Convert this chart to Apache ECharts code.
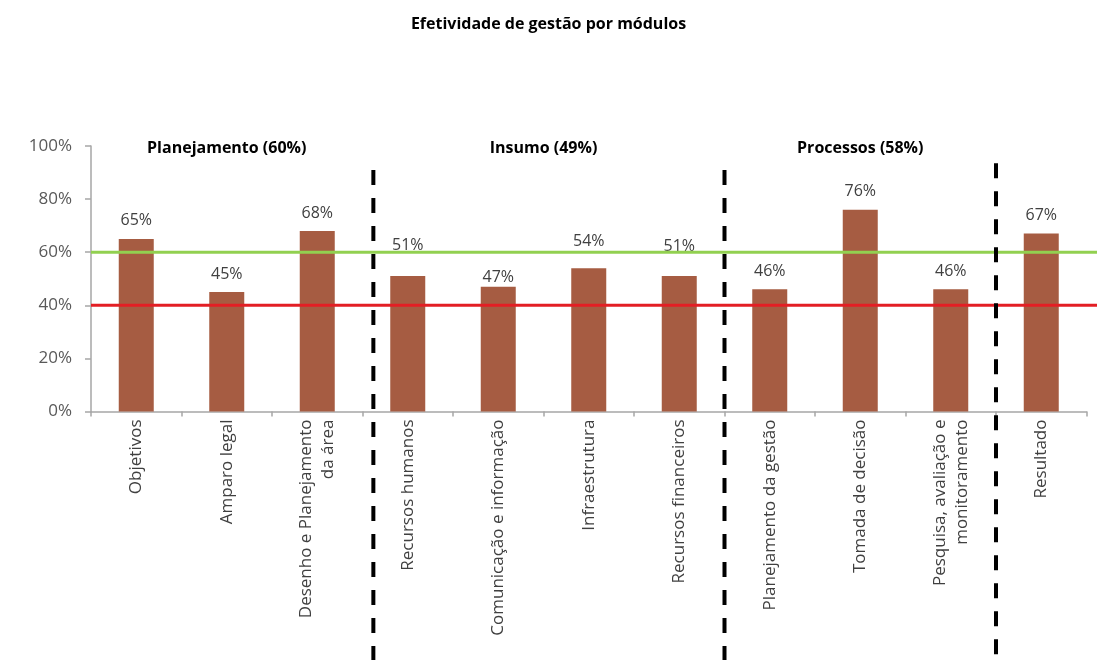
<!DOCTYPE html>
<html>
<head>
<meta charset="utf-8">
<script src="https://cdn.jsdelivr.net/npm/echarts@6/dist/echarts.min.js"></script>
<style>
  html, body { margin: 0; padding: 0; background: #ffffff; }
  #chart { width: 1097px; height: 660px; }
</style>
</head>
<body>
<div id="chart"></div>
<script>
// Management effectiveness per module (share of the maximum score)
const categories = [
  'Objetivos',
  'Amparo legal',
  'Desenho e Planejamento\nda área',
  'Recursos humanos',
  'Comunicação e informação',
  'Infraestrutura',
  'Recursos financeiros',
  'Planejamento da gestão',
  'Tomada de decisão',
  'Pesquisa, avaliação e\nmonitoramento',
  'Resultado'
];
const values = [0.65, 0.45, 0.68, 0.51, 0.47, 0.54, 0.51, 0.46, 0.76, 0.46, 0.67];

// Modules: header text and the range of categories they cover
const moduleNames = ['Planejamento (60%)', 'Insumo (49%)', 'Processos (58%)'];
const moduleRanges = [[0, 2], [3, 6], [7, 9]];

// Category-boundary positions of the dashed module dividers
const dividers = [3.12, 7, 10];
const dividerTops = [0.91, 0.91, 0.935];

// Reference thresholds
const thresholdValues = [0.6, 0.4];
const thresholdColors = ['#92D050', '#E31E24'];

const FONT = '"Open Sans", Lato, sans-serif';

// Per-bar spacing of the value labels above the bars
const labelDistance = { 3: 23, 4: 1, 5: 19, 6: 22 };

const chart = echarts.init(document.getElementById('chart'), null, { renderer: 'canvas' });

const option = {
  animation: false,
  backgroundColor: '#ffffff',
  title: {
    text: 'Efetividade de gestão por módulos',
    left: 'center',
    top: 11,
    textStyle: { fontFamily: FONT, fontSize: 16, fontWeight: 'bold', color: '#000000' }
  },
  grid: { left: 91, right: 10.5, top: 146, bottom: 248.5, containLabel: false },
  xAxis: [
    {
      type: 'category',
      data: categories,
      axisLine: { lineStyle: { color: '#A6A6A6', width: 1.5 } },
      axisTick: { show: true, length: 5, lineStyle: { color: '#A6A6A6', width: 1.5 } },
      axisLabel: {
        rotate: 90,
        interval: 0,
        margin: 8,
        fontFamily: FONT,
        fontSize: 17,
        color: '#404040',
        lineHeight: 22
      }
    },
    {
      // helper axis spanning the categories, used to place dividers and headers
      type: 'value',
      min: 0,
      max: categories.length,
      show: false
    }
  ],
  yAxis: {
    type: 'value',
    min: 0,
    max: 1,
    interval: 0.2,
    axisLine: { show: true, lineStyle: { color: '#A6A6A6', width: 1.5 } },
    axisTick: { show: true, length: 6, lineStyle: { color: '#A6A6A6', width: 1.5 } },
    splitLine: { show: false },
    axisLabel: {
      margin: 19,
      fontFamily: FONT,
      fontSize: 17,
      color: '#595959',
      formatter: v => Math.round(v * 100) + '%'
    }
  },
  series: [
    {
      type: 'bar',
      barWidth: 35,
      data: values.map((v, i) => ({
        value: v,
        label: { distance: labelDistance[i] !== undefined ? labelDistance[i] : 10 }
      })),
      itemStyle: { color: '#A65C42' },
      label: {
        show: true,
        position: 'top',
        fontFamily: FONT,
        fontSize: 16,
        color: '#404040',
        formatter: p => Math.round(p.value * 100) + '%'
      },
      z: 2
    }
  ]
};

chart.setOption(option);

// Overlay elements positioned through the chart's own axes
function px(v) { return chart.convertToPixel({ xAxisIndex: 1 }, v); }
function py(v) { return chart.convertToPixel({ yAxisIndex: 0 }, v); }

const W = chart.getWidth();
const H = chart.getHeight();
const elements = [];

thresholdValues.forEach((t, i) => {
  elements.push({
    type: 'line',
    z: 20,
    shape: { x1: px(0), y1: py(t), x2: W, y2: py(t) },
    style: { stroke: thresholdColors[i], lineWidth: 3 }
  });
});

dividers.forEach((d, i) => {
  elements.push({
    type: 'line',
    z: 21,
    shape: { x1: px(d), y1: py(dividerTops[i]), x2: px(d), y2: H },
    style: { stroke: '#000000', lineWidth: 4, lineDash: [15, 13] }
  });
});

moduleNames.forEach((name, i) => {
  const r = moduleRanges[i];
  elements.push({
    type: 'text',
    z: 22,
    x: px((r[0] + r[1] + 1) / 2),
    y: py(1.0) + 2,
    style: {
      text: name,
      align: 'center',
      verticalAlign: 'middle',
      font: 'bold 16px ' + FONT,
      fill: '#000000'
    }
  });
});

chart.setOption({ graphic: { elements: elements } });
</script>
</body>
</html>
